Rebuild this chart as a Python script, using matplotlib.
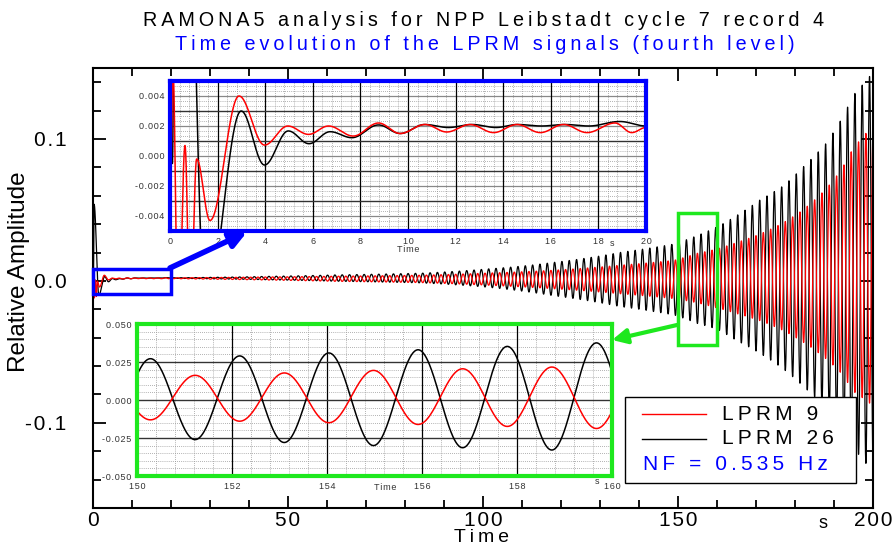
import numpy as np
import matplotlib
matplotlib.use("Agg")
import matplotlib.pyplot as plt
from matplotlib.patches import Rectangle, FancyArrowPatch
from matplotlib.lines import Line2D
from matplotlib.ticker import MultipleLocator

plt.rcParams['font.family'] = ['Liberation Sans', 'DejaVu Sans']

# ---- values ----
# start-up transient 0-20 s: extrema (time [s], value)
red_key_t = [0.0, 0.12, 0.35, 0.63, 0.85, 1.12, 1.68, 2.9, 3.97, 4.95, 5.82, 6.66, 7.7,
             8.76, 9.67, 10.72, 11.63, 12.6, 13.6, 14.58, 15.56, 16.54, 17.52, 18.7, 19.4, 20.0]
red_key_v = [-0.004, 0.006, -0.012, 0.0007, -0.011, -0.0002, -0.0043, 0.0040, 0.00073, 0.0020,
             0.00144, 0.0020, 0.00133, 0.0022, 0.0015, 0.0021, 0.0016, 0.0021, 0.00156, 0.0021,
             0.00156, 0.0021, 0.00156, 0.0022, 0.00156, 0.0019]
black_key_t = [0.0, 0.1, 0.28, 1.5, 2.99, 3.97, 4.97, 5.84, 6.73, 7.64, 8.76, 9.67, 10.7,
               11.7, 12.7, 13.7, 14.6, 15.6, 16.6, 17.6, 18.9, 20.0]
black_key_v = [0.001, -0.0005, 0.054, -0.010, 0.0030, -0.0006, 0.00167, 0.00082, 0.00162,
               0.00122, 0.00207, 0.0015, 0.0021, 0.0019, 0.0021, 0.0019, 0.0021, 0.0020,
               0.0021, 0.0020, 0.0023, 0.0020]

# envelope of the growing oscillation (time [s], upper / lower bound)
env_t = [20, 30, 45, 62, 84, 101, 118, 135, 149, 155, 160, 165, 171, 177, 182, 188, 191.5, 195, 200]
black_up = [0.0022, 0.0025, 0.0032, 0.0042, 0.0054, 0.0084, 0.013, 0.020, 0.026, 0.032, 0.038,
            0.046, 0.057, 0.067, 0.080, 0.097, 0.112, 0.131, 0.147]
black_lo = [0.0018, 0.0015, 0.0008, -0.0002, -0.0014, -0.0044, -0.0104, -0.018, -0.024, -0.030,
            -0.034, -0.042, -0.051, -0.062, -0.074, -0.090, -0.102, -0.118, -0.135]
red_up = [0.0022, 0.0024, 0.0028, 0.0033, 0.0040, 0.0055, 0.0075, 0.011, 0.0145, 0.0195, 0.0225,
          0.027, 0.033, 0.041, 0.050, 0.065, 0.077, 0.094, 0.110]
red_lo = [0.0016, 0.0012, 0.0006, -0.0003, -0.0012, -0.0030, -0.0055, -0.009, -0.0125, -0.0155,
          -0.019, -0.023, -0.028, -0.035, -0.043, -0.055, -0.064, -0.078, -0.088]

# maxima of LPRM 26 seen in the 150-160 s zoom (LPRM 9 is in antiphase)
black_peak_t = [150.28, 152.14, 154.03, 155.91, 157.79, 159.67]
nf_hz = 0.535

W, H = 895, 544


def fx(px):
    return px / W


def fy(py):
    return 1 - py / H


def sp(s, gap='\u200a'):
    return gap.join(s)


def halfwave(kt, kv, t):
    # join successive extrema with half cosine waves
    kt = np.asarray(kt)
    kv = np.asarray(kv)
    i = np.clip(np.searchsorted(kt, t, side='right') - 1, 0, len(kt) - 2)
    s = np.clip((t - kt[i]) / (kt[i + 1] - kt[i]), 0, 1)
    return kv[i] + (kv[i + 1] - kv[i]) * (1 - np.cos(np.pi * s)) / 2


# build the two records
t1 = np.arange(0, 20, 0.005)
t2 = np.arange(20, 200.0001, 0.01)
period = np.mean(np.diff(black_peak_t))
carrier = np.cos(2 * np.pi * (t2 - black_peak_t[-1]) / period)

bu, bl = np.array(black_up), np.array(black_lo)
ru, rl = np.array(red_up), np.array(red_lo)
b_mid = np.interp(t2, env_t, (bu + bl) / 2)
b_amp = np.exp(np.interp(t2, env_t, np.log((bu - bl) / 2)))
r_mid = np.interp(t2, env_t, (ru + rl) / 2)
r_amp = np.exp(np.interp(t2, env_t, np.log((ru - rl) / 2)))

t = np.concatenate([t1, t2])
lprm26 = np.concatenate([halfwave(black_key_t, black_key_v, t1), b_mid + b_amp * carrier])
lprm9 = np.concatenate([halfwave(red_key_t, red_key_v, t1), r_mid - r_amp * carrier])

fig = plt.figure(figsize=(W / 100, H / 100), dpi=100)

# ---- main axes ----
ax = fig.add_axes([fx(93), fy(508), (873 - 93) / W, (508 - 68) / H])
ax.plot(t, lprm26, color='black', lw=0.9)
ax.plot(t, lprm9, color='red', lw=0.9)
ax.set_xlim(0, 200)
ax.set_ylim(-0.16, 0.15)
ax.set_xticks([0, 50, 100, 150, 200])
ax.set_xticklabels([sp(str(v)) for v in [0, 50, 100, 150, 200]], fontsize=15)
ax.set_yticks([-0.1, 0.0, 0.1])
ax.set_yticklabels([sp('-0.1'), sp('0.0'), sp('0.1')], fontsize=15)
ax.xaxis.set_minor_locator(MultipleLocator(10))
ax.yaxis.set_minor_locator(MultipleLocator(0.02))
ax.tick_params(which='both', direction='in', top=True, right=True, width=1.3)
ax.tick_params(which='major', length=9)
ax.tick_params(which='minor', length=6)
ax.tick_params(axis='x', which='major', pad=2)
ax.tick_params(axis='y', which='major', pad=19)
for s in ax.spines.values():
    s.set_linewidth(1.5)

ax.add_patch(Rectangle((0, -0.009), 20, 0.0175, fill=False, ec='blue', lw=2.5,
                       clip_on=False, zorder=4))
ax.add_patch(Rectangle((150, -0.045), 10, 0.0925, fill=False, ec='#1ee81e', lw=2.5,
                       clip_on=False, zorder=4))

fig.text(fx(481), fy(537), sp('Time', '\u2009'), fontsize=14, ha='center', va='center')
fig.text(fx(823), fy(524), 's', fontsize=13, ha='center', va='center')
fig.text(fx(19), fy(272), 'Relative Amplitude', fontsize=17.5, rotation=90,
         ha='center', va='center')
fig.text(fx(484), fy(20), sp('RAMONA5 analysis for NPP Leibstadt cycle 7 record 4', '\u2009'),
         fontsize=14.2, ha='center', va='center')
fig.text(fx(485), fy(45), sp('Time evolution of the LPRM signals (fourth level)', '\u2009'),
         fontsize=14.2, ha='center', va='center', color='blue')


def inset_grid(a, xmaj, xmin, ymaj, ymid, ymin):
    x0, x1 = a.get_xlim()
    y0, y1 = a.get_ylim()
    for v in np.arange(x0, x1 + 1e-9, xmin):
        a.axvline(v, color='#999999', lw=0.6, ls=(0, (1, 1.5)), zorder=0)
    for v in np.arange(y0, y1 + 1e-12, ymin):
        a.axhline(v, color='#999999', lw=0.6, ls=(0, (1, 1.5)), zorder=0)
    for v in np.arange(y0, y1 + 1e-12, ymid):
        a.axhline(v, color='#888888', lw=0.9, zorder=0)
    for v in np.arange(x0, x1 + 1e-9, xmaj):
        a.axvline(v, color='black', lw=0.9, zorder=0)
    for v in np.arange(y0, y1 + 1e-12, ymaj):
        a.axhline(v, color='#333333', lw=0.9, zorder=0)


# ---- zoom on the start-up ----
a1 = fig.add_axes([fx(170), fy(231), 476 / W, 150 / H])
a1.plot(t, lprm26, color='black', lw=1.1)
a1.plot(t, lprm9, color='red', lw=1.1)
a1.set_xlim(0, 20)
a1.set_ylim(-0.005, 0.005)
inset_grid(a1, 2, 0.4, 0.002, 0.001, 0.002 / 6)
a1.set_xticks(np.arange(0, 21, 2))
a1.set_xticklabels([sp(str(v)) for v in range(0, 21, 2)])
a1.set_yticks([-0.004, -0.002, 0.0, 0.002, 0.004])
a1.set_yticklabels([sp('%.3f' % v) for v in [-0.004, -0.002, 0.0, 0.002, 0.004]])
a1.tick_params(length=0, labelsize=6.5, labelcolor='#333333', pad=4)
for s in a1.spines.values():
    s.set_color('blue')
    s.set_linewidth(3)
fig.text(fx(408), fy(249), sp('Time'), fontsize=6.5, ha='center', va='center', color='#333333')
fig.text(fx(612), fy(244), 's', fontsize=6.5, ha='center', va='center', color='#333333')

# ---- zoom on 150-160 s ----
a2 = fig.add_axes([fx(137), fy(476), 475 / W, 152 / H])
a2.plot(t, lprm26, color='black', lw=1.1)
a2.plot(t, lprm9, color='red', lw=1.1)
a2.set_xlim(150, 160)
a2.set_ylim(-0.05, 0.05)
inset_grid(a2, 2, 0.4, 0.025, 0.025, 0.005)
a2.set_xticks(np.arange(150, 161, 2))
a2.set_xticklabels([sp(str(v)) for v in range(150, 161, 2)])
a2.set_yticks([-0.05, -0.025, 0.0, 0.025, 0.05])
a2.set_yticklabels([sp('%.3f' % v) for v in [-0.05, -0.025, 0.0, 0.025, 0.05]])
a2.tick_params(length=0, labelsize=6.5, labelcolor='#333333', pad=4)
for s in a2.spines.values():
    s.set_color('#1ee81e')
    s.set_linewidth(3)
fig.text(fx(385), fy(488), sp('Time'), fontsize=6.5, ha='center', va='center', color='#333333')
fig.text(fx(597), fy(482), 's', fontsize=6.5, ha='center', va='center', color='#333333')

# ---- arrows to the zooms ----
fig.add_artist(FancyArrowPatch((fx(170), fy(268)), (fx(247), fy(232)),
                               transform=fig.transFigure, arrowstyle='-|>',
                               mutation_scale=24, lw=4, color='blue',
                               shrinkA=0, shrinkB=0, zorder=6))
fig.add_artist(FancyArrowPatch((fx(677), fy(325)), (fx(612), fy(340)),
                               transform=fig.transFigure, arrowstyle='-|>',
                               mutation_scale=22, lw=3, color='#1ee81e',
                               shrinkA=0, shrinkB=0, zorder=6))

# ---- legend box ----
fig.add_artist(Rectangle((fx(625), fy(483)), (856 - 625) / W, (483 - 397) / H,
                         transform=fig.transFigure, fc='white', ec='black', lw=1, zorder=5))
fig.add_artist(Line2D([fx(642), fx(706)], [fy(414), fy(414)], transform=fig.transFigure,
                      color='red', lw=1, zorder=6))
fig.add_artist(Line2D([fx(642), fx(706)], [fy(439), fy(439)], transform=fig.transFigure,
                      color='black', lw=1, zorder=6))
fig.text(fx(722), fy(414), sp('LPRM 9', '\u2009'), fontsize=15, va='center', zorder=6)
fig.text(fx(722), fy(439), sp('LPRM 26', '\u2009'), fontsize=15, va='center', zorder=6)
fig.text(fx(643), fy(465), sp('NF = %.3f Hz' % nf_hz, '\u2009'), fontsize=15, va='center',
         color='blue', zorder=6)

fig.savefig('out.png', dpi=100)
